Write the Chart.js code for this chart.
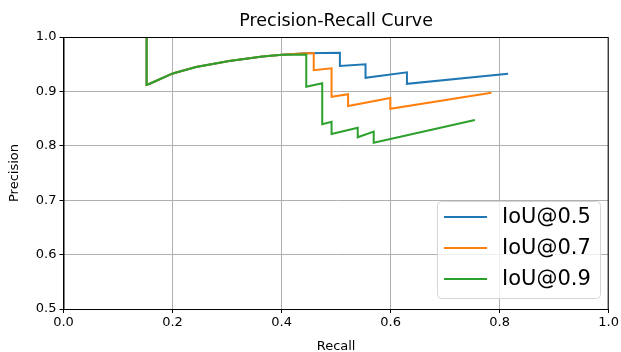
<!DOCTYPE html>
<html>
<head>
<meta charset="utf-8">
<script src="https://cdn.jsdelivr.net/npm/chart.js@4"></script>
<style>
  body { margin: 0; background: #fff; }
  #wrap { width: 621px; height: 352px; }
</style>
</head>
<body>
<div id="wrap"><canvas id="prChart" width="621" height="352"></canvas></div>
<script>
// valores (recall, precision)
const recallIoU05 = [0.1525, 0.1525, 0.158, 0.2005, 0.243, 0.304, 0.365, 0.401, 0.444, 0.507, 0.507, 0.554, 0.554, 0.630, 0.630, 0.8155];
const precIoU05   = [1.0,    0.912,  0.914, 0.933,  0.945, 0.956, 0.964, 0.9675, 0.970, 0.971, 0.9467, 0.950, 0.925, 0.935, 0.914, 0.9325];

const recallIoU07 = [0.1525, 0.1525, 0.158, 0.2005, 0.243, 0.304, 0.365, 0.401, 0.444, 0.459, 0.459, 0.4917, 0.4917, 0.522, 0.522, 0.5995, 0.5995, 0.785];
const precIoU07   = [1.0,    0.912,  0.914, 0.933,  0.945, 0.956, 0.964, 0.9675, 0.970, 0.970, 0.939, 0.9425, 0.890, 0.8947, 0.873, 0.888, 0.868, 0.8976];

const recallIoU09 = [0.1525, 0.1525, 0.158, 0.2005, 0.243, 0.304, 0.365, 0.401, 0.4453, 0.4453, 0.4746, 0.4746, 0.4917, 0.4917, 0.5397, 0.5397, 0.569, 0.569, 0.7547];
const precIoU09   = [1.0,    0.912,  0.914, 0.933,  0.945, 0.956, 0.964, 0.9675, 0.968, 0.9087, 0.915, 0.8395, 0.844, 0.8217, 0.833, 0.8156, 0.826, 0.8057, 0.8474];

const seriesLabels = ['IoU@0.5', 'IoU@0.7', 'IoU@0.9'];
const seriesColors = ['#1f77b4', '#ff7f0e', '#2ca02c'];
const xTicks = [0, 0.2, 0.4, 0.6, 0.8, 1.0];
const yTicks = [0.5, 0.6, 0.7, 0.8, 0.9, 1.0];

const FONT = "'DejaVu Sans', sans-serif";

function toPoints(xs, ys) {
  return xs.map((x, i) => ({ x: x, y: ys[i] }));
}

// moldura, título e legenda no estilo matplotlib
const framePlugin = {
  id: 'frame',
  afterDraw(chart) {
    const { ctx, chartArea: a } = chart;
    ctx.save();
    ctx.strokeStyle = '#000';
    ctx.lineWidth = 1;
    ctx.strokeRect(a.left + 0.5, a.top + 0.5, a.right - a.left - 1, a.bottom - a.top);

    ctx.fillStyle = '#000';
    ctx.font = '17.5px ' + FONT;
    ctx.textAlign = 'center';
    ctx.textBaseline = 'alphabetic';
    ctx.fillText('Precision-Recall Curve', (a.left + a.right) / 2, 26);

    // legenda
    const bx = 437, by = 201, bw = 163, bh = 97;
    ctx.beginPath();
    ctx.roundRect(bx + 0.5, by + 0.5, bw, bh, 4);
    ctx.fillStyle = 'rgba(255,255,255,0.8)';
    ctx.fill();
    ctx.strokeStyle = '#d6d6d6';
    ctx.stroke();
    ctx.font = '21px ' + FONT;
    ctx.textAlign = 'left';
    ctx.textBaseline = 'middle';
    const rows = [217, 248, 279];
    chart.data.datasets.forEach((ds, i) => {
      ctx.strokeStyle = ds.borderColor;
      ctx.lineWidth = 2;
      ctx.beginPath();
      ctx.moveTo(444, rows[i]);
      ctx.lineTo(487, rows[i]);
      ctx.stroke();
      ctx.fillStyle = '#000';
      ctx.fillText(ds.label, 502, rows[i] + 1);
    });
    ctx.restore();
  }
};

const ctx = document.getElementById('prChart').getContext('2d');
const chart = new Chart(ctx, {
  type: 'scatter',
  data: {
    datasets: [
      { label: seriesLabels[0], data: toPoints(recallIoU05, precIoU05) },
      { label: seriesLabels[1], data: toPoints(recallIoU07, precIoU07) },
      { label: seriesLabels[2], data: toPoints(recallIoU09, precIoU09) }
    ].map((ds, i) => Object.assign(ds, {
      showLine: true,
      borderColor: seriesColors[i],
      backgroundColor: seriesColors[i],
      borderWidth: 2,
      pointRadius: 0,
      tension: 0,
      fill: false,
      order: 2 - i  // verde por cima, como no matplotlib
    }))
  },
  options: {
    responsive: false,
    animation: false,
    layout: { padding: { top: 37, right: 10, left: 0, bottom: 0 } },
    plugins: {
      legend: { display: false },
      title: { display: false },
      tooltip: { enabled: false }
    },
    scales: {
      x: {
        type: 'linear',
        min: 0,
        max: 1,
        afterBuildTicks: (s) => { s.ticks = xTicks.map(v => ({ value: v })); },
        afterFit: (s) => { s.height = 43; },
        ticks: {
          color: '#000',
          font: { family: FONT, size: 13 },
          padding: 2,
          maxRotation: 0,
          callback: (v) => v.toFixed(1)
        },
        grid: { color: '#b0b0b0', tickColor: '#000', tickLength: 4, lineWidth: 1 },
        border: { color: '#000' },
        title: { display: true, text: 'Recall', color: '#000', font: { family: FONT, size: 13 }, padding: { top: 0, bottom: -2 } }
      },
      y: {
        type: 'linear',
        min: 0.5,
        max: 1.0,
        afterBuildTicks: (s) => { s.ticks = yTicks.map(v => ({ value: v })); },
        afterFit: (s) => { s.width = 63.5; },
        ticks: {
          color: '#000',
          font: { family: FONT, size: 13 },
          padding: 3,
          callback: (v) => v.toFixed(1)
        },
        grid: { color: '#b0b0b0', tickColor: '#000', tickLength: 4, lineWidth: 1 },
        border: { color: '#000' },
        title: { display: true, text: 'Precision', color: '#000', font: { family: FONT, size: 13 }, padding: { top: 7, bottom: 4 } }
      }
    }
  },
  plugins: [framePlugin]
});
</script>
</body>
</html>
